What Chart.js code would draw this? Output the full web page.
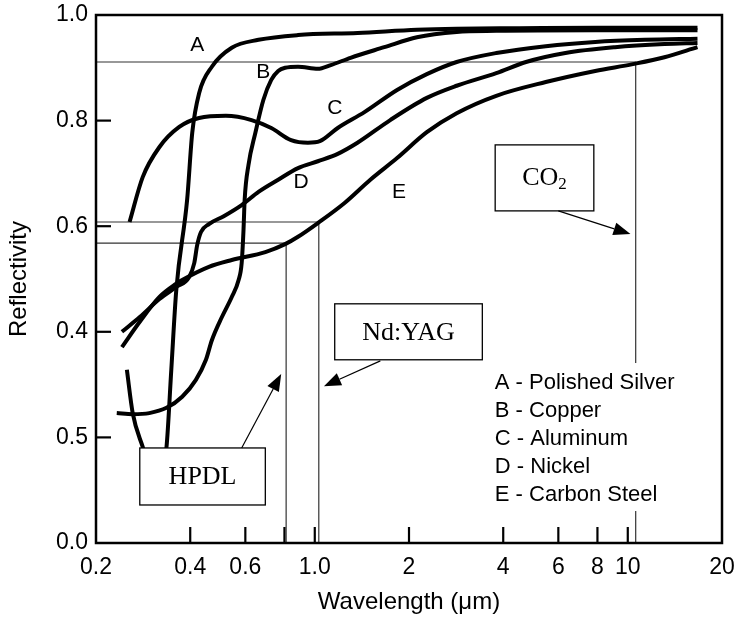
<!DOCTYPE html>
<html>
<head>
<meta charset="utf-8">
<script src="https://cdn.jsdelivr.net/npm/chart.js@4.4.1/dist/chart.umd.min.js"></script>
<style>
  html, body { margin: 0; padding: 0; background: #fff; }
  #wrap { width: 736px; height: 617px; }
</style>
</head>
<body>
<div id="wrap"><canvas id="c" width="736" height="617"></canvas></div>
<script>
// Reflectivity of five metals against wavelength (µm)
const silverWl = [0.251, 0.262, 0.282, 0.314, 0.336, 0.348, 0.361, 0.391, 0.406, 0.427, 0.469, 0.543, 0.661, 0.884, 1.37, 2.12, 2.84, 4.5, 8.0, 16.7];
const silverR  = [0.328, 0.246, 0.182, 0.100, 0.182, 0.328, 0.479, 0.650, 0.777, 0.852, 0.902, 0.938, 0.953, 0.962, 0.966, 0.972, 0.974, 0.975, 0.976, 0.976];

const copperWl = [0.233, 0.262, 0.296, 0.336, 0.377, 0.417, 0.449, 0.469, 0.505, 0.543, 0.571, 0.584, 0.592, 0.597, 0.614, 0.646, 0.685, 0.726, 0.764, 0.804, 0.884, 1.023, 1.125, 1.301, 1.667, 2.12, 2.84, 3.80, 7.87, 16.7];
const copperR  = [0.246, 0.244, 0.246, 0.256, 0.277, 0.309, 0.347, 0.384, 0.428, 0.466, 0.498, 0.530, 0.593, 0.650, 0.716, 0.777, 0.839, 0.877, 0.894, 0.900, 0.902, 0.898, 0.905, 0.919, 0.939, 0.958, 0.968, 0.970, 0.971, 0.971];

const aluminumWl = [0.256, 0.282, 0.319, 0.369, 0.427, 0.520, 0.628, 0.726, 0.840, 0.951, 1.038, 1.184, 1.441, 1.832, 2.28, 2.84, 3.80, 5.47, 7.87, 11.33, 16.7];
const aluminumR  = [0.608, 0.693, 0.750, 0.788, 0.805, 0.809, 0.801, 0.786, 0.763, 0.758, 0.761, 0.786, 0.816, 0.858, 0.888, 0.911, 0.928, 0.941, 0.949, 0.953, 0.955];

const nickelWl = [0.242, 0.276, 0.319, 0.361, 0.397, 0.412, 0.421, 0.433, 0.459, 0.512, 0.584, 0.661, 0.764, 0.884, 1.023, 1.184, 1.369, 1.742, 2.28, 2.84, 3.80, 4.73, 6.32, 9.10, 13.1, 16.7];
const nickelR  = [0.400, 0.428, 0.462, 0.485, 0.504, 0.530, 0.564, 0.589, 0.604, 0.619, 0.640, 0.665, 0.688, 0.710, 0.723, 0.737, 0.758, 0.801, 0.843, 0.866, 0.890, 0.911, 0.928, 0.939, 0.945, 0.947];

const steelWl = [0.242, 0.276, 0.319, 0.361, 0.377, 0.459, 0.543, 0.695, 0.804, 0.884, 1.023, 1.245, 1.505, 1.832, 2.28, 2.84, 3.80, 5.47, 7.87, 10.38, 13.1, 16.7];
const steelR  = [0.371, 0.419, 0.466, 0.491, 0.498, 0.523, 0.536, 0.551, 0.566, 0.580, 0.606, 0.644, 0.688, 0.729, 0.778, 0.814, 0.847, 0.873, 0.894, 0.907, 0.920, 0.939];

// Laser wavelengths and the carbon-steel reflectivity read at each of them
const laserNames = ['HPDL', 'Nd:YAG', 'CO2'];
const laserWl = [0.81, 1.03, 10.6];
const laserR  = [0.568, 0.608, 0.911];

// Axis ticks
const xTickValues = [0.2, 0.4, 0.6, 0.8, 1, 2, 4, 6, 8, 10, 20];
const xTickLabels = ['0.2', '0.4', '0.6', '', '1.0', '2', '4', '6', '8', '10', '20'];
const yTickValues = [0, 0.2, 0.4, 0.6, 0.8, 1.0];
const yTickLabels = ['0.0', '0.5', '0.4', '0.6', '0.8', '1.0'];

// Curve letters and the key
const curveLetters = ['A', 'B', 'C', 'D', 'E'];
const letterWl = [0.421, 0.685, 1.158, 0.904, 1.858];
const letterR  = [0.943, 0.892, 0.824, 0.684, 0.665];
const keyLabels = ['A - Polished Silver', 'B - Copper', 'C - Aluminum', 'D - Nickel', 'E - Carbon Steel'];

// Placement of the laser callout boxes and their arrows, in data units
const callouts = [
  { box: [0.276, 0.695, 0.072, 0.180], from: [0.584, 0.180], to: [0.781, 0.320] },
  { box: [1.158, 3.43, 0.347, 0.453],  from: [1.62, 0.345],  to: [1.07, 0.297] },
  { box: [3.77, 7.79, 0.629, 0.754],   from: [6.0, 0.629],   to: [10.2, 0.585] }
];
const keyAnchor = [3.76, 0.303];

const SANS = '"Liberation Sans", Arial, Helvetica, sans-serif';
const SERIF = '"Liberation Serif", "Times New Roman", serif';

const pts = (xs, ys) => xs.map((v, i) => ({ x: v, y: ys[i] }));

const curve = (label, xs, ys) => ({
  label,
  data: pts(xs, ys),
  borderColor: '#000',
  borderWidth: 4,
  cubicInterpolationMode: 'monotone',
  pointRadius: 0,
  fill: false,
  order: 1
});

// Each laser line: horizontal from the left axis to the wavelength, then down to zero
const laserSets = laserNames.map((n, i) => ({
  label: n,
  data: [{ x: 0.2, y: laserR[i] }, { x: laserWl[i], y: laserR[i] }, { x: laserWl[i], y: 0 }],
  borderColor: '#333',
  borderWidth: 1.2,
  tension: 0,
  pointRadius: 0,
  fill: false,
  order: 2
}));

const overlay = {
  id: 'overlay',
  afterDatasetsDraw(chart) {
    const { ctx, chartArea: a, scales: { x, y } } = chart;
    const X = v => x.getPixelForValue(v);
    const Y = v => y.getPixelForValue(v);
    const seg = (x1, y1, x2, y2) => { ctx.beginPath(); ctx.moveTo(x1, y1); ctx.lineTo(x2, y2); ctx.stroke(); };

    ctx.save();

    // plot frame
    ctx.strokeStyle = '#000';
    ctx.lineWidth = 2.5;
    ctx.strokeRect(a.left, a.top, a.right - a.left, a.bottom - a.top);

    // inward tick marks
    ctx.lineWidth = 2.2;
    xTickValues.slice(1, -1).forEach(v => seg(X(v), a.bottom, X(v), a.bottom - 16));
    yTickValues.slice(1, -1).forEach(v => seg(a.left, Y(v), a.left + 15, Y(v)));

    // key
    const kx = X(keyAnchor[0]), ky = Y(keyAnchor[1]);
    const rowH = 28;
    ctx.fillStyle = '#fff';
    ctx.fillRect(kx - 4, ky - 20, 192, rowH * (keyLabels.length - 1) + 36);
    ctx.fillStyle = '#000';
    ctx.font = '22px ' + SANS;
    ctx.textAlign = 'left';
    ctx.textBaseline = 'middle';
    keyLabels.forEach((t, i) => ctx.fillText(t, kx, ky + i * rowH));

    // callout boxes with arrows
    callouts.forEach((c, i) => {
      const x0 = X(c.box[0]), x1 = X(c.box[1]), y0 = Y(c.box[3]), y1 = Y(c.box[2]);
      ctx.fillStyle = '#fff';
      ctx.fillRect(x0, y0, x1 - x0, y1 - y0);
      ctx.strokeStyle = '#000';
      ctx.lineWidth = 1.3;
      ctx.strokeRect(x0, y0, x1 - x0, y1 - y0);

      const cx = (x0 + x1) / 2, cy = (y0 + y1) / 2;
      ctx.fillStyle = '#000';
      ctx.textBaseline = 'middle';
      const name = laserNames[i];
      if (name === 'CO2') {
        ctx.font = '26px ' + SERIF;
        const w1 = ctx.measureText('CO').width;
        ctx.font = '17px ' + SERIF;
        const w2 = ctx.measureText('2').width;
        const sx = cx - (w1 + w2) / 2;
        ctx.textAlign = 'left';
        ctx.font = '26px ' + SERIF;
        ctx.fillText('CO', sx, cy);
        ctx.font = '17px ' + SERIF;
        ctx.fillText('2', sx + w1, cy + 7);
      } else {
        ctx.font = '26px ' + SERIF;
        ctx.textAlign = 'center';
        ctx.fillText(name, cx, cy + 1);
      }

      // arrow
      const fx = X(c.from[0]), fy = Y(c.from[1]), tx = X(c.to[0]), ty = Y(c.to[1]);
      const ang = Math.atan2(ty - fy, tx - fx);
      const L = 17, H = 6.5;
      const bx = tx - L * Math.cos(ang), by = ty - L * Math.sin(ang);
      ctx.lineWidth = 1.2;
      seg(fx, fy, bx, by);
      ctx.beginPath();
      ctx.moveTo(tx, ty);
      ctx.lineTo(bx + H * Math.sin(ang), by - H * Math.cos(ang));
      ctx.lineTo(bx - H * Math.sin(ang), by + H * Math.cos(ang));
      ctx.closePath();
      ctx.fill();
    });

    // curve letters
    ctx.font = '21px ' + SANS;
    ctx.textAlign = 'center';
    ctx.textBaseline = 'middle';
    ctx.fillStyle = '#000';
    curveLetters.forEach((t, i) => ctx.fillText(t, X(letterWl[i]), Y(letterR[i])));

    ctx.restore();
  }
};

new Chart(document.getElementById('c'), {
  type: 'line',
  data: {
    datasets: [
      curve('Polished Silver', silverWl, silverR),
      curve('Copper', copperWl, copperR),
      curve('Aluminum', aluminumWl, aluminumR),
      curve('Nickel', nickelWl, nickelR),
      curve('Carbon Steel', steelWl, steelR),
      ...laserSets
    ]
  },
  options: {
    responsive: false,
    animation: false,
    devicePixelRatio: 1,
    layout: { padding: { top: 15, right: 14, bottom: 0, left: 0 } },
    plugins: { legend: { display: false }, tooltip: { enabled: false } },
    scales: {
      x: {
        type: 'logarithmic',
        min: 0.2,
        max: 20,
        afterBuildTicks: s => { s.ticks = xTickValues.map(v => ({ value: v })); },
        afterFit: s => { s.height = 74; s.paddingLeft = 0; s.paddingRight = 0; },
        grid: { display: false, drawTicks: false },
        border: { display: false },
        ticks: {
          autoSkip: false,
          maxRotation: 0,
          padding: 11,
          color: '#000',
          font: { family: SANS, size: 23 },
          callback: (v, i) => xTickLabels[i]
        },
        title: {
          display: true,
          text: 'Wavelength (μm)',
          color: '#000',
          font: { family: SANS, size: 24 },
          padding: { top: 0, bottom: 0 }
        }
      },
      y: {
        type: 'linear',
        min: 0,
        max: 1,
        afterBuildTicks: s => { s.ticks = yTickValues.map(v => ({ value: v })); },
        afterFit: s => { s.width = 96; s.paddingTop = 0; s.paddingBottom = 0; },
        grid: { display: false, drawTicks: false },
        border: { display: false },
        ticks: {
          autoSkip: false,
          padding: 8,
          color: '#000',
          font: { family: SANS, size: 23 },
          callback: (v, i) => yTickLabels[i]
        },
        title: {
          display: true,
          text: 'Reflectivity',
          color: '#000',
          font: { family: SANS, size: 24 },
          padding: { top: 5, bottom: 0 }
        }
      }
    }
  },
  plugins: [overlay]
});
</script>
</body>
</html>
